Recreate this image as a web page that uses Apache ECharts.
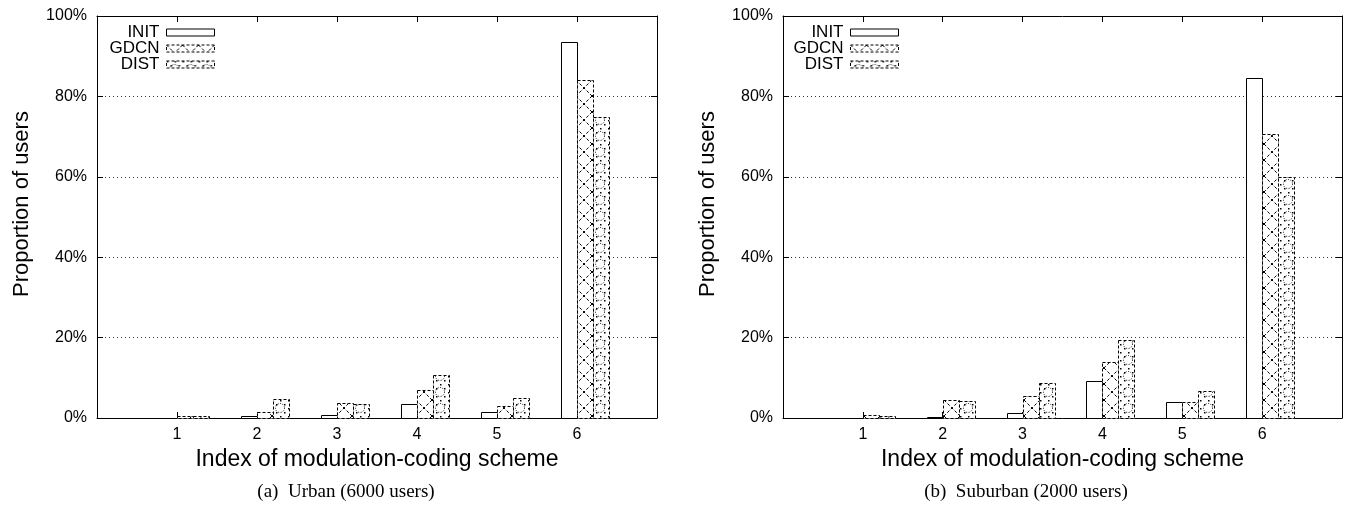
<!DOCTYPE html>
<html>
<head>
<meta charset="utf-8">
<script src="https://cdn.jsdelivr.net/npm/echarts@6/dist/echarts.min.js"></script>
<style>
html,body{margin:0;padding:0;background:#fff;}
#chart{width:1351px;height:508px;}
</style>
</head>
<body>
<div id="chart"></div>
<script>
// ---- data ----
var categories = [1, 2, 3, 4, 5, 6];
var seriesNames = ['INIT', 'GDCN', 'DIST'];
var urbanInit = [0.0, 0.5, 0.8, 3.5, 1.4, 93.5];
var urbanGdcn = [0.4, 1.5, 3.7, 7.0, 3.1, 84.1];
var urbanDist = [0.5, 4.8, 3.5, 10.6, 4.9, 74.9];
var suburbInit = [0.0, 0.2, 1.3, 9.2, 4.1, 84.6];
var suburbGdcn = [0.8, 4.5, 5.5, 13.9, 3.9, 70.6];
var suburbDist = [0.6, 4.2, 8.6, 19.4, 6.8, 60.0];
var yTicks = [0, 20, 40, 60, 80, 100];
var xTitle = 'Index of modulation-coding scheme';
var yTitle = 'Proportion of users';
var captions = ['(a)  Urban (6000 users)', '(b)  Suburban (2000 users)'];

// ---- patterns ----
function makeCross() {
  var c = document.createElement('canvas'); c.width = 16; c.height = 16;
  var g = c.getContext('2d');
  g.fillStyle = '#fff'; g.fillRect(0, 0, 16, 16);
  g.strokeStyle = '#000'; g.lineWidth = 1; g.setLineDash([3, 2]);
  g.beginPath(); g.moveTo(0, 0); g.lineTo(16, 16); g.stroke();
  g.beginPath(); g.moveTo(16, 0); g.lineTo(0, 16); g.stroke();
  return c;
}
function makeDots() {
  var c = document.createElement('canvas'); c.width = 16; c.height = 16;
  var g = c.getContext('2d');
  g.fillStyle = '#fff'; g.fillRect(0, 0, 16, 16);
  g.strokeStyle = '#000'; g.fillStyle = '#000'; g.lineWidth = 1; g.setLineDash([1, 1.6]);
  g.beginPath(); g.arc(8, 8, 4.5, 0, Math.PI * 2); g.stroke();
  var pts = [[0, 0], [8, 0], [0, 8], [8, 8], [4, 4], [12, 12], [12, 4], [4, 12]];
  pts.forEach(function (p, i) { if (i === 3) return; g.fillRect(p[0], p[1], 1.5, 1.5); });
  return c;
}
var crossPattern = { image: makeCross(), repeat: 'repeat' };
var dotPattern = { image: makeDots(), repeat: 'repeat' };

var styles = {
  INIT: { fill: '#ffffff', dash: null },
  GDCN: { fill: crossPattern, dash: [3, 2] },
  DIST: { fill: dotPattern, dash: [3, 2] }
};
var offsets = { INIT: -0.2, GDCN: 0.0, DIST: 0.2 };
var barSpan = 0.2;

function renderer(name) {
  return function (params, api) {
    var x = api.value(0), y = api.value(1);
    var p0 = api.coord([x + offsets[name], y]);
    var p1 = api.coord([x + offsets[name] + barSpan, 0]);
    var st = styles[name];
    return {
      type: 'rect',
      shape: { x: Math.round(p0[0]) + 0.5, y: Math.round(p0[1]) + 0.5, width: Math.round(p1[0] - p0[0]), height: Math.round(p1[1]) - Math.round(p0[1]) },
      style: { fill: st.fill, stroke: '#000', lineWidth: 1, lineDash: st.dash }
    };
  };
}

function makeSeries(name, values, gi) {
  return {
    type: 'custom', name: name, xAxisIndex: gi * 2, yAxisIndex: gi * 2,
    renderItem: renderer(name),
    itemStyle: { color: styles[name].fill, borderColor: '#000', borderWidth: 1, borderType: styles[name].dash ? [3, 2] : 'solid' },
    data: categories.map(function (c, i) { return [c, values[i]]; }),
    z: 3
  };
}

var font = 'Liberation Sans, Arial, sans-serif';
var grids = [
  { left: 97, right: 694, top: 16, bottom: 90 },
  { left: 783, right: 9, top: 16, bottom: 90 }
];
var xAxes = [], yAxes = [];
grids.forEach(function (g, gi) {
  xAxes.push({
    type: 'value', gridIndex: gi, min: 0, max: 7, interval: 1, position: 'bottom',
    axisLine: { show: true, onZero: false, lineStyle: { color: '#000', width: 1 } },
    axisTick: { show: true, inside: true, length: 6, lineStyle: { color: '#000' } },
    axisLabel: { color: '#000', fontSize: 16, fontFamily: font, margin: 9,
      formatter: function (v) { var i = categories.indexOf(v); return i >= 0 ? String(categories[i]) : ''; } },
    splitLine: { show: false },
    name: xTitle, nameLocation: 'middle', nameGap: 27,
    nameTextStyle: { color: '#000', fontSize: 23, fontFamily: font }
  });
  xAxes.push({
    type: 'value', gridIndex: gi, min: 0, max: 7, interval: 1, position: 'top',
    axisLine: { show: true, onZero: false, lineStyle: { color: '#000', width: 1 } },
    axisTick: { show: true, inside: true, length: 6, lineStyle: { color: '#000' } },
    axisLabel: { show: false }, splitLine: { show: false }
  });
  yAxes.push({
    type: 'value', gridIndex: gi, min: 0, max: 100, interval: 20, position: 'left',
    axisLine: { show: true, onZero: false, lineStyle: { color: '#000', width: 1 } },
    axisTick: { show: true, inside: true, length: 6, lineStyle: { color: '#000' } },
    axisLabel: { color: '#000', fontSize: 16, fontFamily: font, margin: 10,
      formatter: function (v) { return yTicks.indexOf(v) >= 0 ? v + '%' : ''; } },
    splitLine: { show: true, lineStyle: { color: '#333', type: [1, 3], width: 1 } },
    name: yTitle, nameLocation: 'middle', nameGap: 64, nameRotate: 90,
    nameTextStyle: { color: '#000', fontSize: 22, fontFamily: font, padding: [0, 0, 0, 26] }
  });
  yAxes.push({
    type: 'value', gridIndex: gi, min: 0, max: 100, interval: 20, position: 'right',
    axisLine: { show: true, onZero: false, lineStyle: { color: '#000', width: 1 } },
    axisTick: { show: true, inside: true, length: 6, lineStyle: { color: '#000' } },
    axisLabel: { show: false }, splitLine: { show: false }
  });
});

var series = [
  makeSeries('INIT', urbanInit, 0), makeSeries('GDCN', urbanGdcn, 0), makeSeries('DIST', urbanDist, 0),
  makeSeries('INIT', suburbInit, 1), makeSeries('GDCN', suburbGdcn, 1), makeSeries('DIST', suburbDist, 1)
];

var legendRights = [1351 - 215, 1351 - 899];
var legendTops = [23, 39, 55];
var legends = [];
legendRights.forEach(function (r) {
  seriesNames.forEach(function (n, i) {
    legends.push({
      data: [n], orient: 'vertical', align: 'right', right: r, top: legendTops[i] + 1, padding: 0,
      icon: 'rect', itemWidth: 48, itemHeight: 7, selectedMode: false,
      itemStyle: { color: styles[n].fill, borderColor: '#000', borderWidth: 1, borderType: styles[n].dash ? [3, 2] : 'solid' },
      textStyle: { color: '#000', fontSize: 17, fontFamily: font, lineHeight: 17, padding: [0, 2, 0, 0] }
    });
  });
});

var capFont = '19px "Liberation Serif", "Times New Roman", serif';
var chart = echarts.init(document.getElementById('chart'));
chart.setOption({
  backgroundColor: '#fff',
  animation: false,
  grid: grids,
  xAxis: xAxes,
  yAxis: yAxes,
  legend: legends,
  series: series,
  graphic: [
    { type: 'text', x: 346, y: 492, style: { text: captions[0], fill: '#000', font: capFont, textAlign: 'center', textVerticalAlign: 'middle' } },
    { type: 'text', x: 1026, y: 492, style: { text: captions[1], fill: '#000', font: capFont, textAlign: 'center', textVerticalAlign: 'middle' } }
  ]
});
</script>
</body>
</html>
